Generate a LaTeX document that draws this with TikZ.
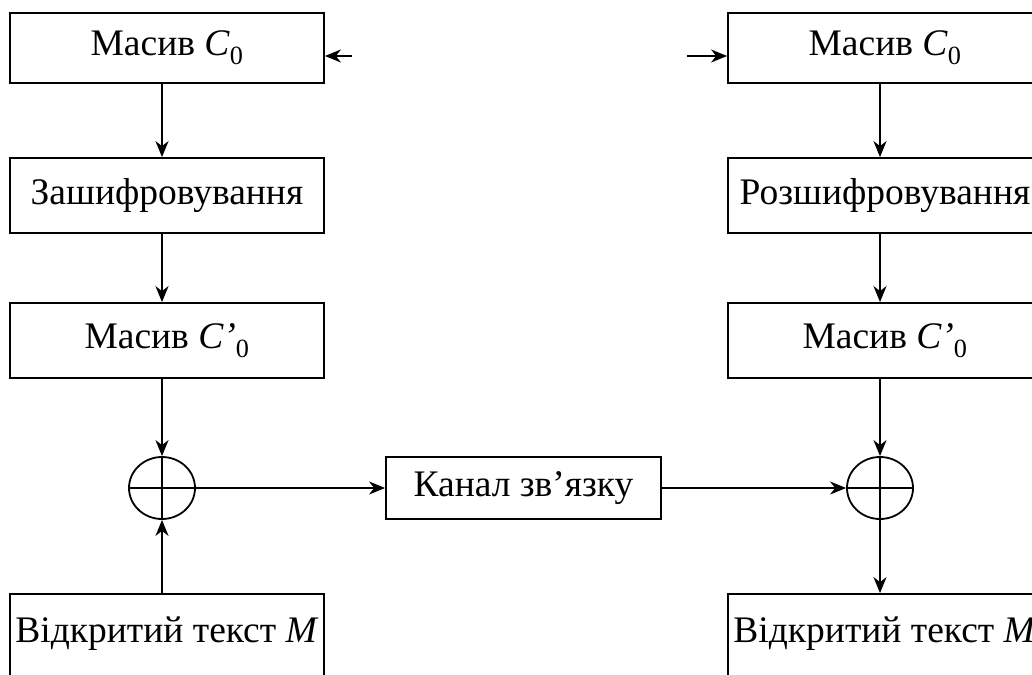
\documentclass[tikz,border=0pt]{standalone}
\usepackage{fontspec}
\setmainfont{Liberation Serif}
\usetikzlibrary{shapes.geometric,arrows.meta}

\newcommand{\masyv}[1]{Масив \textit{C#1}\textsubscript{0}}

\tikzset{
	blok/.style={draw,line width=1.8pt,minimum width=314pt,minimum height=75pt,inner sep=0pt,font=\fontsize{37.5}{40}\selectfont},
	suma/.style={draw,ellipse,line width=1.8pt,minimum width=66pt,minimum height=62pt,inner sep=0pt}
}

\begin{document}
\begin{tikzpicture}[x=1pt,y=-1pt]
		\useasboundingbox (0,0) rectangle (1032,674);
		\clip (0,0) rectangle (1032,674);
		% left column
		\node[blok,minimum height=70pt] (enc0) at (167,48) {\masyv{}};
		\node[blok] (enc1) at (167,195.5) {Зашифровування};
		\node[blok] (enc2) at (167,340.5) {\masyv{’}};
		\node[suma] (sumL) at (162,488) {};
		\node[blok,anchor=base,text height=48pt,text depth=70pt] (textL) at (167,642) {Відкритий текст \textit{M}};
		% channel
		\node[blok,minimum width=275pt,minimum height=62pt] (kanal) at (523.5,488) {Канал зв’язку};
		% right column
		\node[blok,minimum height=70pt] (dec0) at (885,48) {\masyv{}};
		\node[blok] (dec1) at (885,195.5) {Розшифровування};
		\node[blok] (dec2) at (885,340.5) {\masyv{’}};
		\node[suma] (sumR) at (880,488) {};
		\node[blok,anchor=base,text height=48pt,text depth=70pt] (textR) at (885,642) {Відкритий текст \textit{M}};
		\coordinate (inL) at (352,56);
		\coordinate (inR) at (687,56);
		\draw[line width=1.8pt] (sumL.north) -- (sumL.south) (sumL.west) -- (sumL.east)
			(sumR.north) -- (sumR.south) (sumR.west) -- (sumR.east);
		\path[line width=1.8pt,-{Stealth[length=16pt,width=13pt,inset=5pt]}]
		(inL) edge (inL -| enc0.east)
		(enc0.south -| sumL) edge (enc1.north -| sumL)
		(enc1.south -| sumL) edge (enc2.north -| sumL)
		(enc2.south -| sumL) edge (sumL.north)
		(textL.north -| sumL) edge (sumL.south)
		(sumL.east) edge (kanal.west)
		(kanal.east) edge (sumR.west)
		(inR) edge (inR -| dec0.west)
		(dec0.south -| sumR) edge (dec1.north -| sumR)
		(dec1.south -| sumR) edge (dec2.north -| sumR)
		(dec2.south -| sumR) edge (sumR.north)
		(sumR.south) edge (textR.north -| sumR);
	\end{tikzpicture}
\end{document}
